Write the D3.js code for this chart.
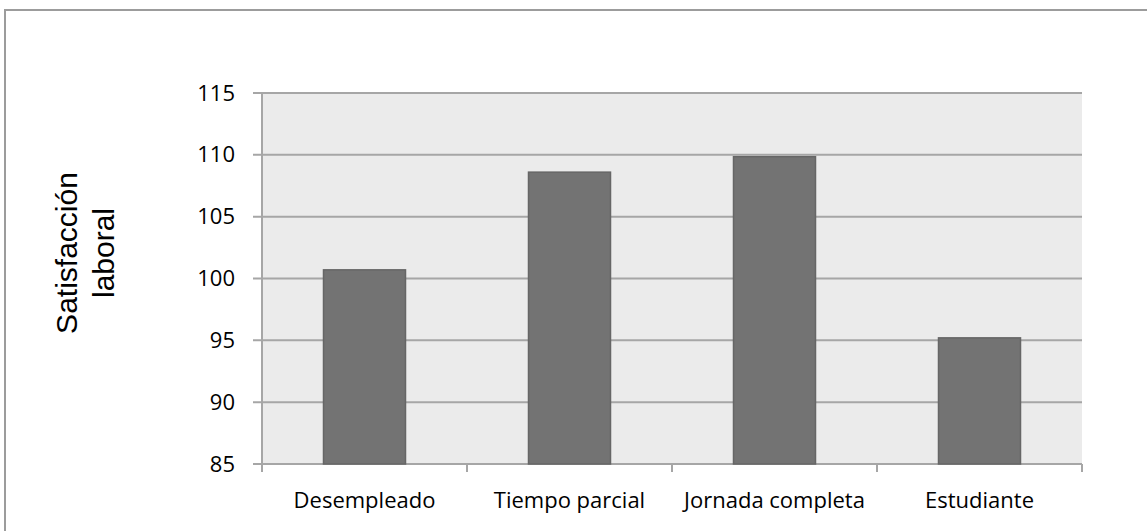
<!DOCTYPE html>
<html>
<head>
<meta charset="utf-8">
<script src="https://d3js.org/d3.v7.min.js"></script>
<style>
  body { margin: 0; background: #fff; }
  svg { display: block; }
</style>
</head>
<body>
<div id="graph"></div>
<script>
const categories = ["Desempleado", "Tiempo parcial", "Jornada completa", "Estudiante"];
const satisfaccion = [100.7, 108.6, 109.85, 95.2];
const yTicks = [85, 90, 95, 100, 105, 110, 115];
const yTitle = ["Satisfacción", "laboral"];

const W = 1147, H = 531;
const margin = {top: 93, right: 65, bottom: 67, left: 262};
const width = W - margin.left - margin.right;
const height = H - margin.top - margin.bottom;

const root = d3.select("#graph")
    .append("svg")
    .attr("width", W)
    .attr("height", H);

// cadre exterieur
root.append("rect")
    .attr("x", 5).attr("y", 10)
    .attr("width", 1300).attr("height", 700)
    .attr("fill", "none")
    .attr("stroke", "#9c9c9c")
    .attr("stroke-width", 2);

const svg = root.append("g")
    .attr("transform", "translate(" + margin.left + "," + margin.top + ")");

const x = d3.scaleBand()
    .domain(categories)
    .range([0, width])
    .paddingInner(0.6)
    .paddingOuter(0.3);

const y = d3.scaleLinear()
    .domain([85, 115])
    .range([height, 0]);

// fond
svg.append("rect")
    .attr("width", width)
    .attr("height", height)
    .attr("fill", "#ebebeb");

// grille
svg.selectAll(".grid")
    .data(yTicks)
    .join("line")
    .attr("class", "grid")
    .attr("x1", -9).attr("x2", width)
    .attr("y1", d => y(d)).attr("y2", d => y(d))
    .attr("stroke", "#a6a6a6")
    .attr("stroke-width", 2);

// barres
svg.selectAll(".bar")
    .data(satisfaccion)
    .join("rect")
    .attr("class", "bar")
    .attr("x", (d, i) => x(categories[i]))
    .attr("width", x.bandwidth())
    .attr("y", d => y(d))
    .attr("height", d => height - y(d))
    .attr("fill", "#737373")
    .attr("stroke", "#666")
    .attr("stroke-width", 1.5);

// axe y
const yAxis = svg.append("g")
    .call(d3.axisLeft(y).tickValues(yTicks).tickSize(9).tickPadding(18).tickFormat(d3.format("d")));
yAxis.select(".domain").attr("stroke", "#a6a6a6").attr("stroke-width", 2)
    .attr("d", "M0,0V" + (height + 8));
yAxis.selectAll(".tick line").remove();
yAxis.selectAll("text")
    .attr("fill", "#000")
    .style("font-family", "'Open Sans', sans-serif")
    .style("font-size", "22px");

// axe x : graduations aux limites des categories
const bounds = d3.range(categories.length + 1).map(i => i * width / categories.length);
svg.selectAll(".xtick")
    .data(bounds)
    .join("line")
    .attr("class", "xtick")
    .attr("x1", d => d).attr("x2", d => d)
    .attr("y1", height).attr("y2", height + 8)
    .attr("stroke", "#a6a6a6")
    .attr("stroke-width", 2);

svg.selectAll(".xlabel")
    .data(categories)
    .join("text")
    .attr("class", "xlabel")
    .attr("x", d => x(d) + x.bandwidth() / 2)
    .attr("y", height + 44)
    .attr("text-anchor", "middle")
    .style("font-family", "'Open Sans', sans-serif")
    .style("font-size", "22px")
    .text(d => d);

// titre axe y
const title = root.append("text")
    .attr("transform", "translate(66,253) rotate(-90)")
    .attr("text-anchor", "middle")
    .style("font-family", "'Liberation Sans', Arial, sans-serif")
    .style("font-size", "30px");
title.selectAll("tspan")
    .data(yTitle)
    .join("tspan")
    .attr("x", 0)
    .attr("dy", (d, i) => i === 0 ? "0.35em" : "1.25em")
    .text(d => d);
</script>
</body>
</html>
